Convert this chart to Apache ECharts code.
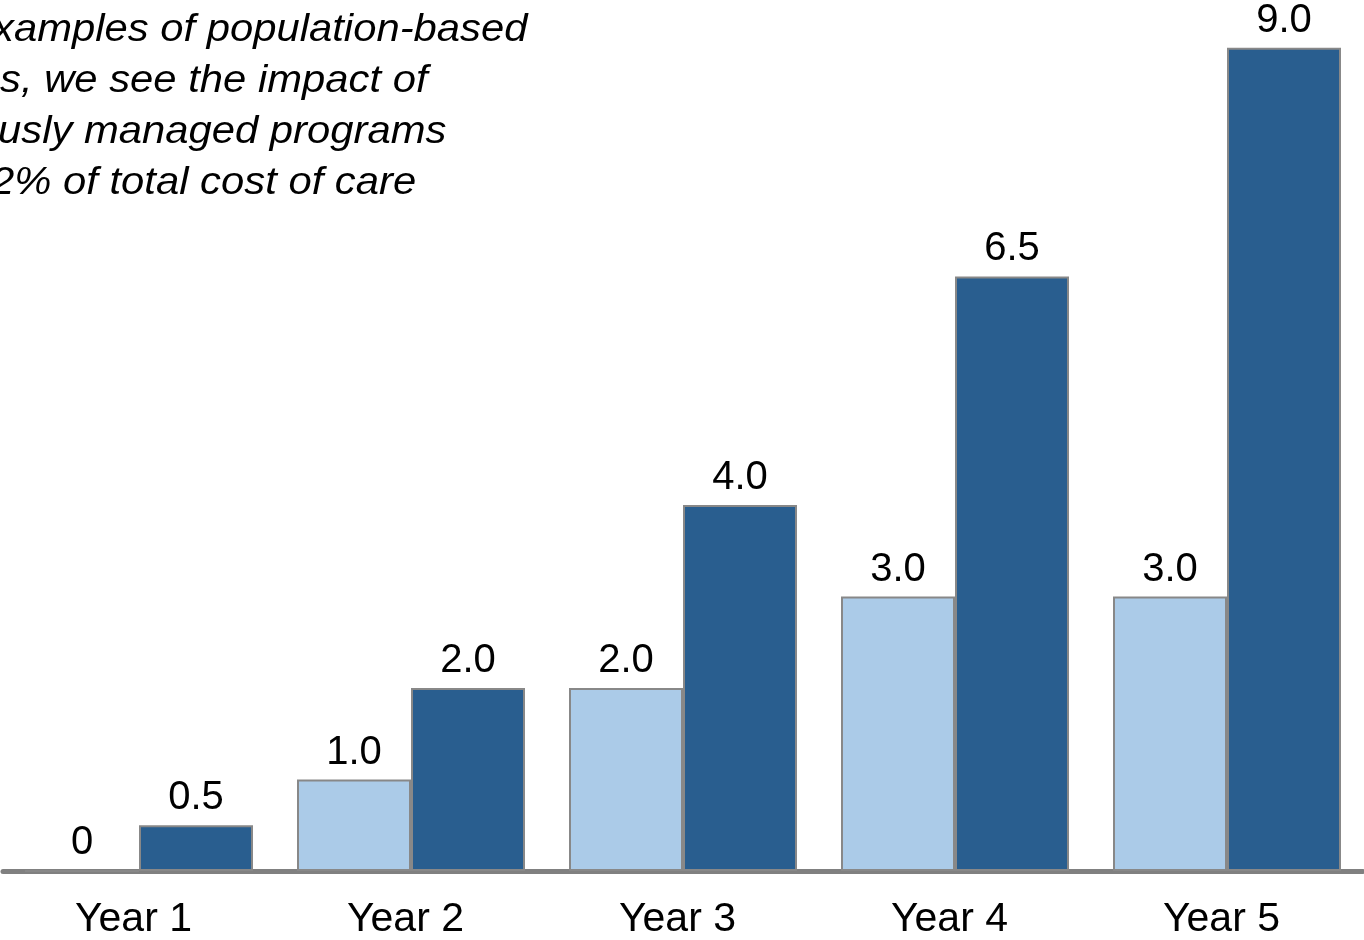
<!DOCTYPE html>
<html>
<head>
<meta charset="utf-8">
<script src="https://cdn.jsdelivr.net/npm/echarts@6/dist/echarts.min.js"></script>
<style>
  html, body { margin: 0; padding: 0; background: #ffffff; }
  #chart { width: 1364px; height: 940px; }
</style>
</head>
<body>
<div id="chart"></div>
<script>
// Category labels along the x axis
const years = ['Year 1', 'Year 2', 'Year 3', 'Year 4', 'Year 5'];
// Lighter series (left bar in each group)
const seriesA = [0, 1.0, 2.0, 3.0, 3.0];
// Darker series (right bar in each group)
const seriesB = [0.5, 2.0, 4.0, 6.5, 9.0];
// Annotation lines in the upper-left corner
const noteLines = [
  'xamples of population-based',
  's, we see the impact of',
  'usly managed programs',
  '2% of total cost of care'
];
const noteOffsets = [-7, 0, -2, -9];

const FONT = '"Liberation Sans", Arial, Helvetica, sans-serif';

const chart = echarts.init(document.getElementById('chart'), null, { renderer: 'canvas' });

function fmt(v) { return v === 0 ? '0' : v.toFixed(1); }

const labelStyle = {
  show: true,
  position: 'top',
  distance: 7,
  color: '#000000',
  fontFamily: FONT,
  fontSize: 40,
  formatter: p => fmt(p.value)
};

chart.setOption({
  animation: false,
  backgroundColor: '#ffffff',
  grid: { left: 3, right: 1, top: 2, bottom: 68, containLabel: false },
  xAxis: {
    type: 'category',
    data: years,
    axisTick: { show: false },
    axisLine: { show: true, lineStyle: { color: '#808080', width: 5 } },
    axisLabel: {
      color: '#000000', fontFamily: FONT, fontSize: 41, margin: 28,
      padding: [0, 11, 0, 0]
    }
  },
  yAxis: {
    type: 'value',
    min: 0,
    max: 9.5,
    show: false,
    splitLine: { show: false }
  },
  series: [
    {
      name: 'A',
      type: 'bar',
      data: seriesA,
      barWidth: 114,
      barGap: '0%',
      itemStyle: { color: '#abcbe8', borderColor: '#888888', borderWidth: 2 },
      label: labelStyle
    },
    {
      name: 'B',
      type: 'bar',
      data: seriesB,
      barWidth: 114,
      barGap: '0%',
      itemStyle: { color: '#295e8f', borderColor: '#888888', borderWidth: 2 },
      label: labelStyle
    }
  ],
  graphic: noteLines.map((t, i) => ({
    type: 'text',
    x: noteOffsets[i],
    y: 11 + i * 51,
    scaleX: 1.1,
    style: {
      text: t,
      x: 0,
      y: 0,
      align: 'left',
      verticalAlign: 'top',
      fill: '#000000',
      font: 'italic 38px ' + FONT
    }
  }))
});
</script>
</body>
</html>
